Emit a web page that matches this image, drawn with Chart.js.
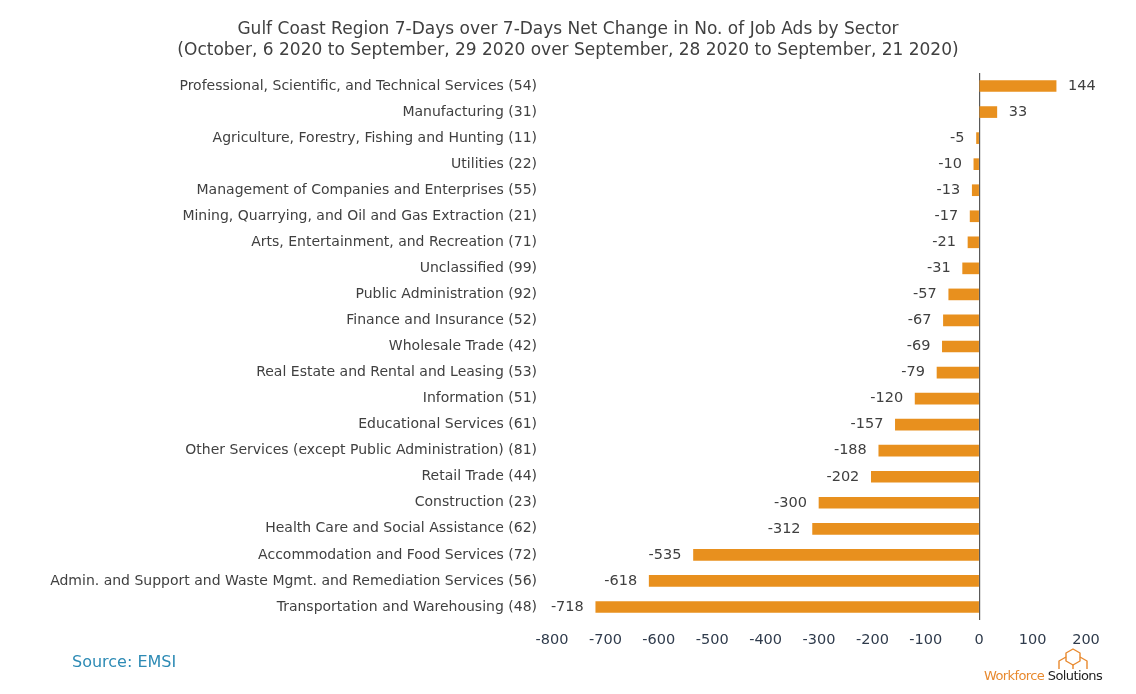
<!DOCTYPE html>
<html>
<head>
<meta charset="utf-8">
<script src="https://cdn.jsdelivr.net/npm/chart.js@4"></script>
<style>
  html, body { margin: 0; padding: 0; background: #fff; }
  #wrap { position: relative; width: 1136px; height: 694px; }
  #source { position: absolute; left: 72px; top: 652px; font-family: "DejaVu Sans", sans-serif; font-size: 16px; color: #2E8BB5; }
  #logotxt { position: absolute; left: 984px; top: 668px; font-family: "DejaVu Sans", sans-serif; font-size: 13px; letter-spacing: -0.6px; white-space: nowrap; }
  #logotxt .w { color: #E8892E; }
  #logotxt .s { color: #222; }
  #hex { position: absolute; left: 1040px; top: 645px; }
</style>
</head>
<body>
<div id="wrap">
  <canvas id="c" width="1136" height="694"></canvas>
  <div id="source">Source: EMSI</div>
  <svg id="hex" width="70" height="30" viewBox="0 0 70 30">
    <g fill="none" stroke="#E8892E" stroke-width="1.4" stroke-linejoin="round">
      <polygon points="33,4 40,8 40,16 33,20 26,16 26,8"/>
      <polyline points="19,24 19,16 26,12"/>
      <polyline points="40,12 47,16 47,24"/>
      <polyline points="33,20 33,24"/>
    </g>
  </svg>
  <div id="logotxt"><span class="w">Workforce</span><span class="s"> Solutions</span></div>
</div>
<script>
const categories = [
  "Professional, Scientific, and Technical Services (54)",
  "Manufacturing (31)",
  "Agriculture, Forestry, Fishing and Hunting (11)",
  "Utilities (22)",
  "Management of Companies and Enterprises (55)",
  "Mining, Quarrying, and Oil and Gas Extraction (21)",
  "Arts, Entertainment, and Recreation (71)",
  "Unclassified (99)",
  "Public Administration (92)",
  "Finance and Insurance (52)",
  "Wholesale Trade (42)",
  "Real Estate and Rental and Leasing (53)",
  "Information (51)",
  "Educational Services (61)",
  "Other Services (except Public Administration) (81)",
  "Retail Trade (44)",
  "Construction (23)",
  "Health Care and Social Assistance (62)",
  "Accommodation and Food Services (72)",
  "Admin. and Support and Waste Mgmt. and Remediation Services (56)",
  "Transportation and Warehousing (48)"
];
const netChange = [144, 33, -5, -10, -13, -17, -21, -31, -57, -67, -69, -79, -120, -157, -188, -202, -300, -312, -535, -618, -718];
const titleLines = [
  "Gulf Coast Region 7-Days over 7-Days Net Change in No. of Job Ads by Sector",
  "(October, 6 2020 to September, 29 2020 over September, 28 2020 to September, 21 2020)"
];
const xMin = -800, xMax = 200, xStep = 100;

const FONT = '"DejaVu Sans", sans-serif';

const valueLabels = {
  id: 'valueLabels',
  afterDatasetsDraw(chart) {
    const ctx = chart.ctx;
    const meta = chart.getDatasetMeta(0);
    ctx.save();
    ctx.font = '14.5px ' + FONT;
    ctx.fillStyle = '#404040';
    ctx.textBaseline = 'middle';
    meta.data.forEach((bar, i) => {
      const v = chart.data.datasets[0].data[i];
      if (v >= 0) {
        ctx.textAlign = 'left';
        ctx.fillText(String(v), bar.x + 12, bar.y);
      } else {
        ctx.textAlign = 'right';
        ctx.fillText(String(v), bar.x - 12, bar.y);
      }
    });
    ctx.restore();
  }
};

const centeredTitle = {
  id: 'centeredTitle',
  afterDraw(chart) {
    const ctx = chart.ctx;
    ctx.save();
    ctx.font = '17px ' + FONT;
    ctx.fillStyle = '#404040';
    ctx.textAlign = 'center';
    ctx.textBaseline = 'middle';
    titleLines.forEach((t, i) => ctx.fillText(t, chart.width / 2, 30 + i * 21));
    ctx.restore();
  }
};

new Chart(document.getElementById('c'), {
  type: 'bar',
  data: {
    labels: categories,
    datasets: [{
      data: netChange,
      backgroundColor: '#E8901E',
      borderWidth: 0,
      barThickness: 11
    }]
  },
  options: {
    indexAxis: 'y',
    responsive: false,
    animation: false,
    layout: { padding: { left: 0, right: 50, top: 73, bottom: 34 } },
    plugins: {
      legend: { display: false },
      tooltip: { enabled: false },
      title: { display: false }
    },
    scales: {
      x: {
        min: xMin, max: xMax,
        ticks: { stepSize: xStep, color: '#2F3B4C', font: { family: FONT, size: 14.5 }, padding: 12 },
        grid: {
          drawTicks: false,
          color: (c) => (c.tick && c.tick.value === 0) ? '#595959' : 'rgba(0,0,0,0)',
          lineWidth: 1.2
        },
        border: { display: false },
        afterFit: (s) => { s.height = 40; }
      },
      y: {
        ticks: { color: '#404040', font: { family: FONT, size: 14 }, padding: 15, autoSkip: false },
        grid: { display: false, drawTicks: false },
        border: { display: false },
        afterFit: (s) => { s.width = 552; }
      }
    }
  },
  plugins: [valueLabels, centeredTitle]
});
</script>
</body>
</html>
